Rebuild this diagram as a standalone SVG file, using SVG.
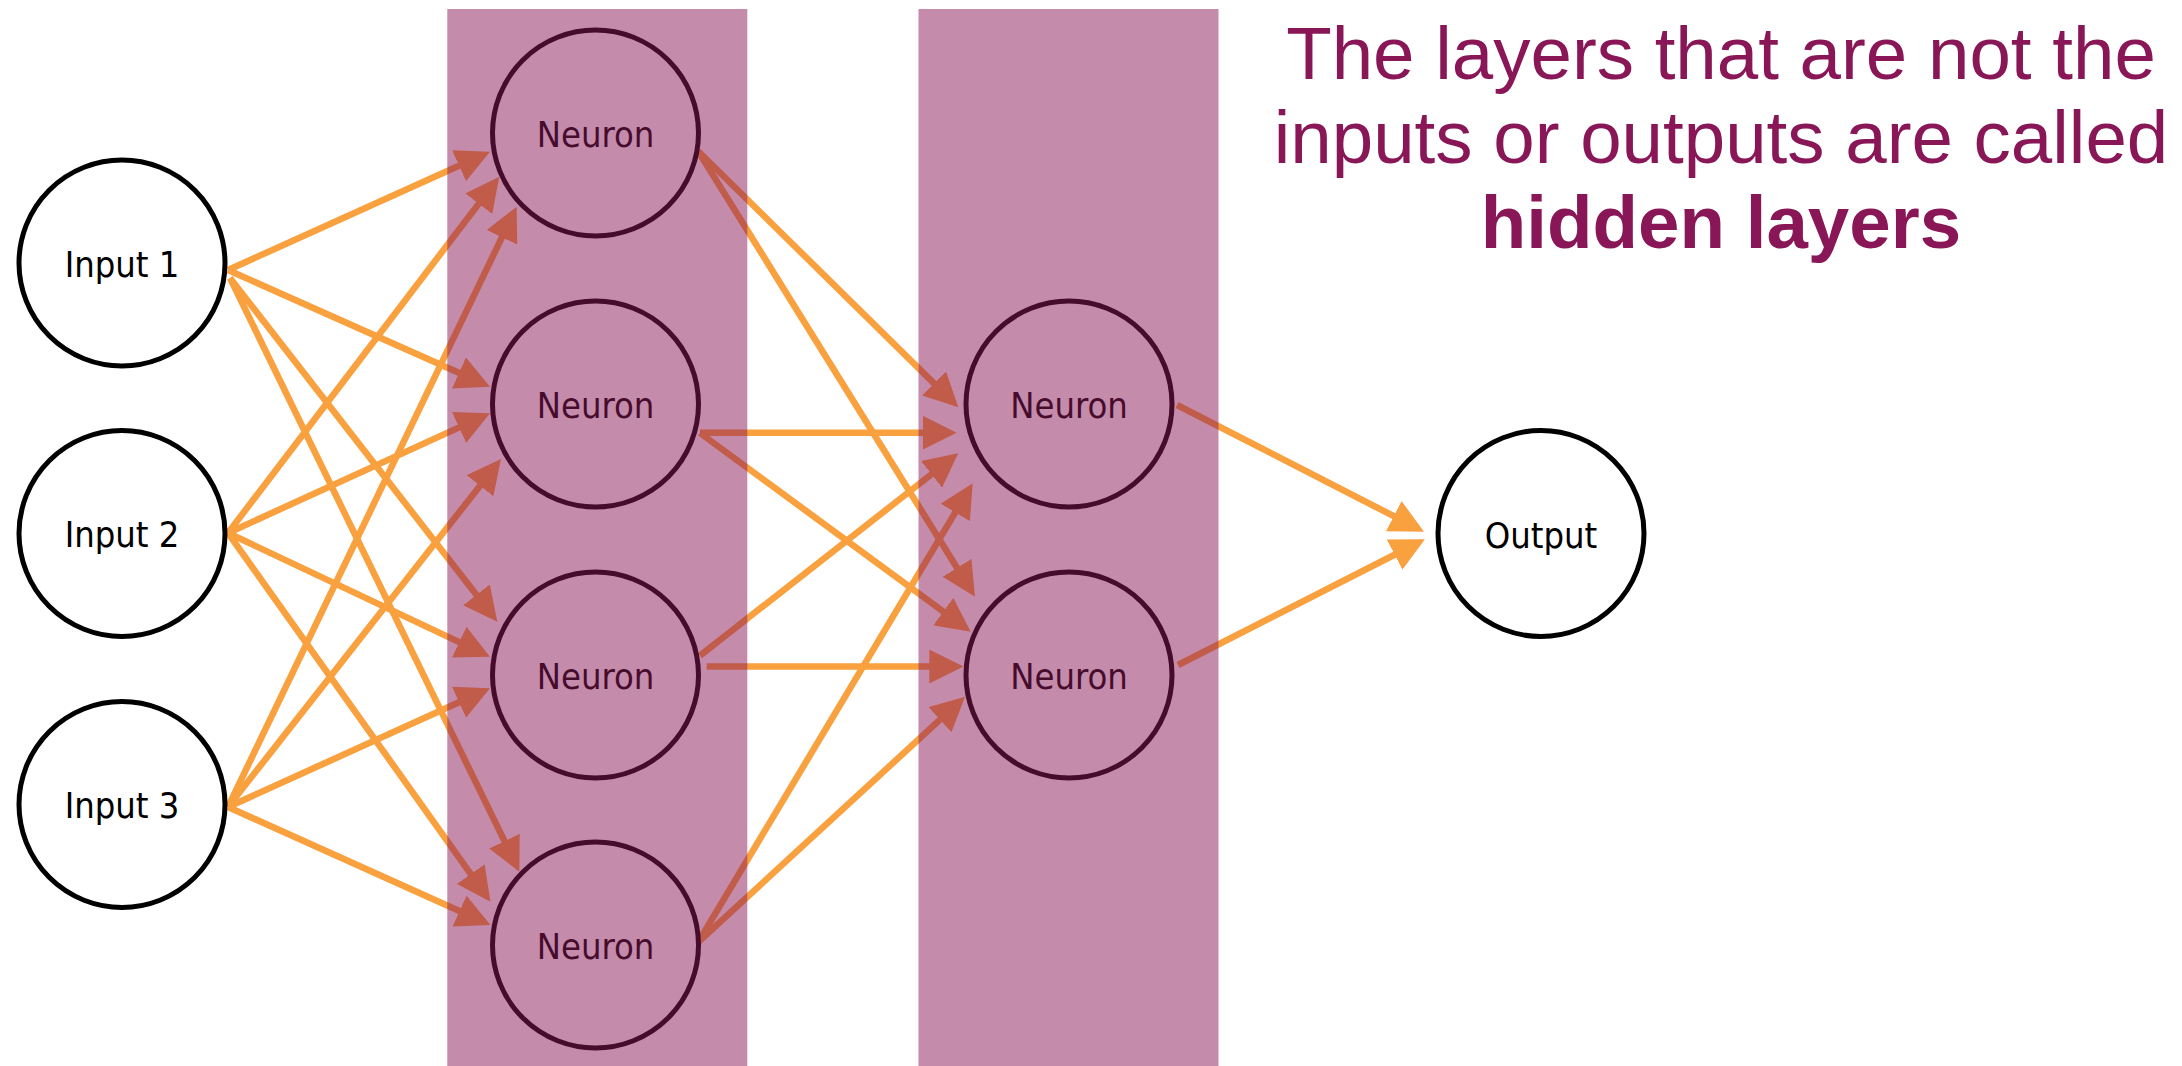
<svg xmlns="http://www.w3.org/2000/svg" width="2182" height="1066" viewBox="0 0 2182 1066">
  <style>
    .node circle { fill: #ffffff; stroke: #000000; stroke-width: 5; }
    .node text { font-family: "DejaVu Sans Condensed", "DejaVu Sans", sans-serif; font-stretch: condensed; font-size: 36px; fill: #000000; text-anchor: middle; }
    .edge { stroke: #F9A03F; stroke-width: 6.5; fill: none; marker-end: url(#head); }
    .band { fill: #891757; fill-opacity: 0.5; }
    .caption { font-family: "Liberation Sans", Arial, sans-serif; font-size: 74.5px; fill: #891757; text-anchor: middle; }
  </style>
  <defs>
    <marker id="head" markerUnits="userSpaceOnUse" markerWidth="34" markerHeight="34" refX="17" refY="17" orient="auto">
      <path d="M0,0 L34,17 L0,34 z" fill="#F9A03F"/>
    </marker>
  </defs>
  <rect width="2182" height="1066" fill="#ffffff"/>

  <!-- connectors -->
  <g id="connectors">
    <!-- input layer to first hidden layer -->
    <line class="edge" x1="228" y1="270" x2="474.5" y2="158.7"/>
    <line class="edge" x1="228" y1="270" x2="474.5" y2="379.8"/>
    <line class="edge" x1="230" y1="278" x2="486.9" y2="608.3"/>
    <line class="edge" x1="230" y1="278" x2="511.9" y2="856.4"/>
    <line class="edge" x1="228" y1="533" x2="489.0" y2="190.2"/>
    <line class="edge" x1="228" y1="533" x2="474.5" y2="420.4"/>
    <line class="edge" x1="228" y1="533" x2="474.6" y2="649.4"/>
    <line class="edge" x1="228" y1="533" x2="480.6" y2="887.9"/>
    <line class="edge" x1="228" y1="807" x2="509.3" y2="222.0"/>
    <line class="edge" x1="228" y1="807" x2="490.5" y2="472.4"/>
    <line class="edge" x1="228" y1="807" x2="474.5" y2="695.3"/>
    <line class="edge" x1="228" y1="807" x2="475.0" y2="918.0"/>
    <!-- first hidden layer to second hidden layer -->
    <line class="edge" x1="698" y1="151" x2="946.2" y2="395.4"/>
    <line class="edge" x1="698" y1="151" x2="966.0" y2="582.3"/>
    <line class="edge" x1="700" y1="432.7" x2="939.7" y2="432.7"/>
    <line class="edge" x1="700" y1="433" x2="957.0" y2="621.6"/>
    <line class="edge" x1="700" y1="655.6" x2="944.9" y2="463.8"/>
    <line class="edge" x1="706.7" y1="666.5" x2="946.3" y2="666.5"/>
    <line class="edge" x1="698.3" y1="942" x2="964.0" y2="497.9"/>
    <line class="edge" x1="698.3" y1="942" x2="952.5" y2="708.2"/>
    <!-- second hidden layer to output -->
    <line class="edge" x1="1177" y1="405" x2="1408.9" y2="523.9"/>
    <line class="edge" x1="1178" y1="665" x2="1409.8" y2="547.0"/>
  </g>

  <!-- input layer -->
  <g id="input1" class="node"><circle cx="122" cy="263" r="103"/><text x="122" y="276.5">Input 1</text></g>
  <g id="input2" class="node"><circle cx="122" cy="533.5" r="103"/><text x="122" y="547">Input 2</text></g>
  <g id="input3" class="node"><circle cx="122" cy="804.5" r="103"/><text x="122" y="818">Input 3</text></g>

  <!-- first hidden layer -->
  <g id="hidden1-1" class="node"><circle cx="595.5" cy="133" r="103"/><text x="595.5" y="147">Neuron</text></g>
  <g id="hidden1-2" class="node"><circle cx="595.5" cy="404" r="103"/><text x="595.5" y="418">Neuron</text></g>
  <g id="hidden1-3" class="node"><circle cx="595.5" cy="675" r="103"/><text x="595.5" y="689">Neuron</text></g>
  <g id="hidden1-4" class="node"><circle cx="595.5" cy="945" r="103"/><text x="595.5" y="959">Neuron</text></g>

  <!-- second hidden layer -->
  <g id="hidden2-1" class="node"><circle cx="1069" cy="404" r="103"/><text x="1069" y="418">Neuron</text></g>
  <g id="hidden2-2" class="node"><circle cx="1069" cy="675" r="103"/><text x="1069" y="689">Neuron</text></g>

  <!-- output layer -->
  <g id="output" class="node"><circle cx="1541" cy="533.5" r="103"/><text x="1541" y="548">Output</text></g>

  <!-- translucent bands marking the hidden layers -->
  <g id="hidden-bands">
    <rect class="band" x="447.3" y="9" width="300" height="1057"/>
    <rect class="band" x="918.5" y="9" width="300" height="1057"/>
  </g>

  <!-- caption -->
  <g id="caption">
    <text class="caption" x="1721" y="79.3">The layers that are not the</text>
    <text class="caption" x="1721" y="163">inputs or outputs are called</text>
    <text class="caption" x="1721" y="248" font-weight="bold">hidden layers</text>
  </g>
</svg>
